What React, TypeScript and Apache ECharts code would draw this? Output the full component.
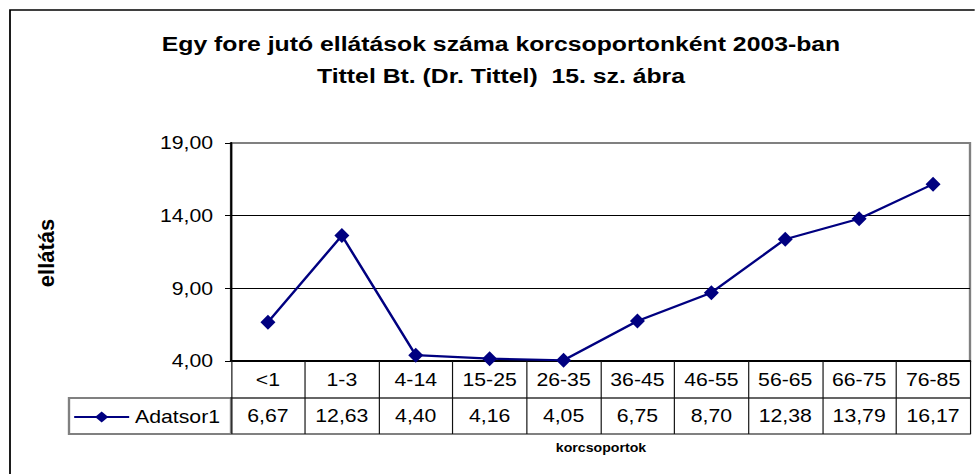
import React, { useEffect, useRef } from "react";
import * as echarts from "echarts";

const categories = ["<1", "1-3", "4-14", "15-25", "26-35", "36-45", "46-55", "56-65", "66-75", "76-85"];
const values = [6.67, 12.63, 4.4, 4.16, 4.05, 6.75, 8.7, 12.38, 13.79, 16.17];
const seriesName = "Adatsor1";
const titleLine1 = "Egy fore jutó ellátások száma korcsoportonként 2003-ban";
const titleLine2 = "Tittel Bt. (Dr. Tittel)  15. sz. ábra";
const yAxisTitle = "ellátás";
const xAxisTitle = "korcsoportok";
const yMin = 4;
const yMax = 19;
const yStep = 5;

const fmt = (v: number) => v.toFixed(2).replace(".", ",");
const FONT = "'Liberation Sans', Arial, sans-serif";
const NAVY = "#000080";
// the reference's lettering is horizontally widened; the whole drawing is stretched by S
const S = 1.18;
const W = 975;
const H = 474;
const sx = (x: number) => x / S;

export default function App() {
  const ref = useRef<HTMLDivElement>(null);
  useEffect(() => {
    if (!ref.current) return;
    const chart = echarts.init(ref.current, undefined, { renderer: "svg" });
    const gridLeft = 231;
    const gridRight = 970;
    const gridTop = 143;
    const gridBottom = 361;
    const rowH = 37;
    chart.setOption({
      animation: false,
      backgroundColor: "#ffffff",
      textStyle: { fontFamily: FONT },
      grid: {
        left: sx(gridLeft),
        top: gridTop,
        width: sx(gridRight - gridLeft),
        height: gridBottom - gridTop,
        show: true,
        borderColor: "#808080",
        borderWidth: 2,
        backgroundColor: "transparent",
      },
      legend: {
        show: true,
        left: sx(73),
        top: 408,
        itemWidth: sx(55),
        itemHeight: 14,
        itemGap: 0,
        padding: 0,
        textStyle: { fontSize: 18, color: "#000", fontFamily: FONT },
        data: [seriesName],
      },
      xAxis: [
        {
          type: "category",
          data: categories,
          position: "bottom",
          boundaryGap: true,
          axisLine: { show: true, lineStyle: { color: "#000", width: 2 } },
          axisTick: { show: true, length: rowH, lineStyle: { color: "#111", width: 1 } },
          axisLabel: { fontSize: 18, color: "#000", margin: 10, fontFamily: FONT },
          splitLine: { show: false },
        },
        {
          type: "category",
          data: values.map(fmt),
          position: "bottom",
          offset: rowH,
          boundaryGap: true,
          axisLine: { show: true, lineStyle: { color: "#333", width: 1.5 } },
          axisTick: { show: true, length: rowH - 1, lineStyle: { color: "#111", width: 1 } },
          axisLabel: { fontSize: 18, color: "#000", margin: 9, fontFamily: FONT },
          splitLine: { show: false },
        },
        {
          type: "category",
          data: categories,
          position: "bottom",
          offset: rowH * 2 - 1,
          axisLine: { show: true, lineStyle: { color: "#808080", width: 2 } },
          axisTick: { show: false },
          axisLabel: { show: false },
          splitLine: { show: false },
        },
      ],
      yAxis: {
        type: "value",
        min: yMin,
        max: yMax,
        interval: yStep,
        axisLine: { show: true, lineStyle: { color: "#000", width: 1.8 } },
        axisTick: { show: true, length: sx(6), lineStyle: { color: "#000" } },
        axisLabel: {
          fontSize: 18,
          color: "#000",
          margin: sx(18),
          fontFamily: FONT,
          formatter: (v: number) => fmt(v),
        },
        splitLine: {
          show: true,
          lineStyle: { color: ["transparent", "#000", "#000", "transparent"], width: 1 },
        },
      },
      series: [
        {
          name: seriesName,
          type: "line",
          data: values,
          xAxisIndex: 0,
          symbol: "diamond",
          symbolSize: [sx(15), 15],
          lineStyle: { color: NAVY, width: 2.2 },
          itemStyle: { color: NAVY },
        },
      ],
      graphic: [
        {
          type: "rect",
          shape: { x: sx(10), y: 10, width: sx(1000), height: 500 },
          style: { fill: "none", stroke: "#000", lineWidth: 1.5 },
          silent: true,
        },
        {
          type: "rect",
          shape: { x: sx(69), y: gridBottom + rowH, width: sx(gridLeft - 69), height: rowH - 1 },
          style: { fill: "none", stroke: "#808080", lineWidth: 2 },
          silent: true,
        },
        {
          type: "text",
          x: sx(501),
          y: 44,
          style: {
            text: titleLine1,
            font: `bold 21px ${FONT}`,
            fill: "#000",
            align: "center",
            verticalAlign: "middle",
          },
        },
        {
          type: "text",
          x: sx(501),
          y: 76,
          style: {
            text: titleLine2,
            font: `bold 21px ${FONT}`,
            fill: "#000",
            align: "center",
            verticalAlign: "middle",
          },
        },
        {
          type: "text",
          x: sx(47),
          y: 253,
          rotation: Math.PI / 2,
          scaleX: 1.22,
          style: {
            text: yAxisTitle,
            font: `bold 18px ${FONT}`,
            fill: "#000",
            align: "center",
            verticalAlign: "middle",
          },
        },
        {
          type: "text",
          x: sx(601),
          y: 448,
          style: {
            text: xAxisTitle,
            font: `bold 12px ${FONT}`,
            fill: "#000",
            align: "center",
            verticalAlign: "middle",
          },
        },
      ],
    });
    return () => chart.dispose();
  }, []);
  return (
    <div style={{ position: "fixed", left: 0, top: 0, width: W, height: H, overflow: "hidden", background: "#fff" }}>
      <div
        ref={ref}
        style={{
          width: sx(W),
          height: H,
          transform: `scaleX(${S})`,
          transformOrigin: "0 0",
        }}
      />
    </div>
  );
}
